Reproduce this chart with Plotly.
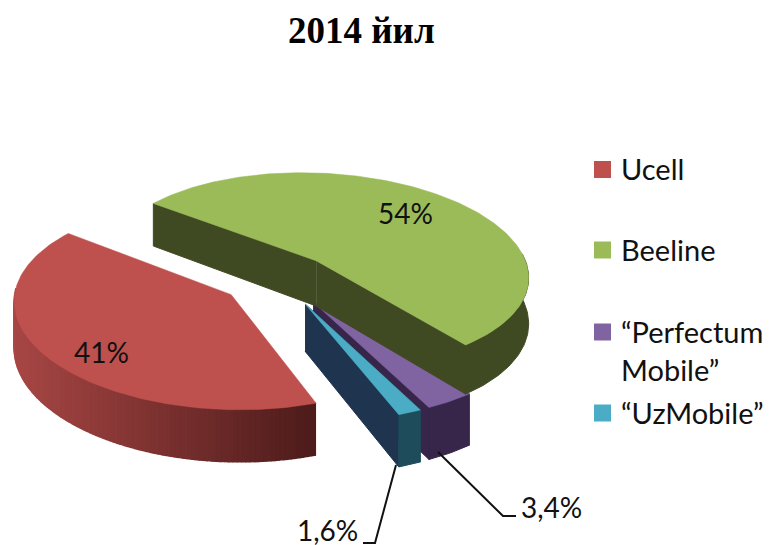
import numpy as np
import plotly.graph_objects as go

CATEGORIES = ["Ucell", "Beeline", "“Perfectum<br>Mobile”", "“UzMobile”"]
VALUES = [41, 54, 3.4, 1.6]
LABELS = ["41%", "54%", "3,4%", "1,6%"]
TITLE = "2014 йил"

TOP = ["#BE504E", "#9BBB59", "#8064A2", "#4BACC6"]
ARC_SIDE = [None, "#404A22", "#37264A", "#1F4C5A"]
CUT_SIDE = [None, "#404A22", "#37264A", "#1F344F"]
RED_SIDE_LEFT = np.array([0xA8, 0x47, 0x45])
RED_SIDE_RIGHT = np.array([0x4E, 0x1C, 0x1B])

W, H = 769, 545
CX, CY, R, K, C, U, DEPTH = 280, 278, 213, 0.47, 0.06, 0.10, 46
START = -51.0
PULL = [61, 54, 58, 58]

fig = go.Figure()


def project(X, Y, z=0.0):
    s = 1 / (1 + U * np.asarray(Y) / R)
    return CX + (np.asarray(X) - C * np.asarray(Y)) * s, CY - K * np.asarray(Y) * s + z * s


def poly(xs, ys, color, width=0.5):
    fig.add_trace(go.Scatter(x=list(xs), y=list(ys), mode="lines", fill="toself", fillcolor=color,
                             line=dict(color=color, width=width), hoverinfo="skip", showlegend=False))


spans = np.array(VALUES) / sum(VALUES) * 360
angles = {
    1: (START, START + spans[1]),
    2: (START + spans[1], START + spans[1] + spans[2]),
    3: (START + spans[1] + spans[2], START + spans[1] + spans[2] + spans[3]),
    0: (START + spans[1] + spans[2] + spans[3], START + 360),
}


def geometry(i):
    a0, a1 = angles[i]
    mid = np.radians((a0 + a1) / 2)
    ox, oy = PULL[i] * np.sin(mid), PULL[i] * np.cos(mid)
    t = np.radians(np.linspace(a0, a1, max(int(a1 - a0), 8)))
    return ox, oy, ox + R * np.sin(t), oy + R * np.cos(t)


def draw_slice(i):
    ox, oy, ax, ay = geometry(i)
    front = (ay - oy) < 0.08 * R
    fx, fy = ax[front], ay[front]
    if i == 0:
        for j in range(len(fx) - 1):
            x1, y1 = project(fx[j:j + 2], fy[j:j + 2])
            x2, y2 = project(fx[j:j + 2], fy[j:j + 2], DEPTH)
            f = np.clip((x1[0] - 15) / 298, 0, 1)
            c = RED_SIDE_LEFT + (RED_SIDE_RIGHT - RED_SIDE_LEFT) * f
            poly(np.r_[x1, x2[::-1]], np.r_[y1, y2[::-1]], "rgb(%d,%d,%d)" % tuple(c), width=1.5)
    else:
        for k in (0, -1):
            ex, ey = np.array([ox, ax[k]]), np.array([oy, ay[k]])
            x1, y1 = project(ex, ey)
            x2, y2 = project(ex, ey, DEPTH)
            poly(np.r_[x1, x2[::-1]], np.r_[y1, y2[::-1]], CUT_SIDE[i] if k == -1 else ARC_SIDE[i], width=1)
        x1, y1 = project(fx, fy)
        x2, y2 = project(fx, fy, DEPTH)
        poly(np.r_[x1, x2[::-1]], np.r_[y1, y2[::-1]], ARC_SIDE[i], width=1)
    x, y = project(np.r_[ox, ax, ox], np.r_[oy, ay, oy])
    poly(x, y, TOP[i], width=0.5)


for i in (2, 3, 1, 0):
    draw_slice(i)

for xs, ys in (([438, 503, 516], [452, 516, 516]), ([396, 375, 363], [465, 543, 543])):
    fig.add_trace(go.Scatter(x=xs, y=ys, mode="lines", line=dict(color="#111111", width=2),
                             hoverinfo="skip", showlegend=False))

LEG_Y = [169.5, 250, 332, 413]
for i, (yy, cat) in enumerate(zip(LEG_Y, CATEGORIES)):
    fig.add_trace(go.Scatter(x=[602.5], y=[yy], mode="markers", showlegend=False, hoverinfo="skip",
                             marker=dict(symbol="square", size=17, color=TOP[i])))
    fig.add_annotation(x=619, y=yy - 1 if i != 2 else yy + 18, xref="x", yref="y", xanchor="left", yanchor="middle",
                       text=cat, showarrow=False, align="left",
                       font=dict(family="Lato", size=29, color="#111111"))

for (x, y), txt in zip([(101, 352), (405, 213), (551, 507), (327, 530)], LABELS):
    fig.add_annotation(x=x, y=y, xref="x", yref="y", text=txt, showarrow=False,
                       font=dict(family="Lato", size=28, color="#111111"))

fig.add_annotation(x=361, y=30, xref="x", yref="y", text="<b>%s</b>" % TITLE, showarrow=False,
                   font=dict(family="Liberation Serif", size=37, color="#000000"))

fig.update_layout(width=W, height=H, margin=dict(l=0, r=0, t=0, b=0), autosize=False,
                  paper_bgcolor="white", plot_bgcolor="white", showlegend=False,
                  xaxis=dict(range=[0, W], visible=False, fixedrange=True),
                  yaxis=dict(range=[H, 0], visible=False, fixedrange=True))
fig.write_html("out.html", config={"displayModeBar": False},
               post_script="document.body.style.margin='0';document.body.style.overflow='hidden';")
